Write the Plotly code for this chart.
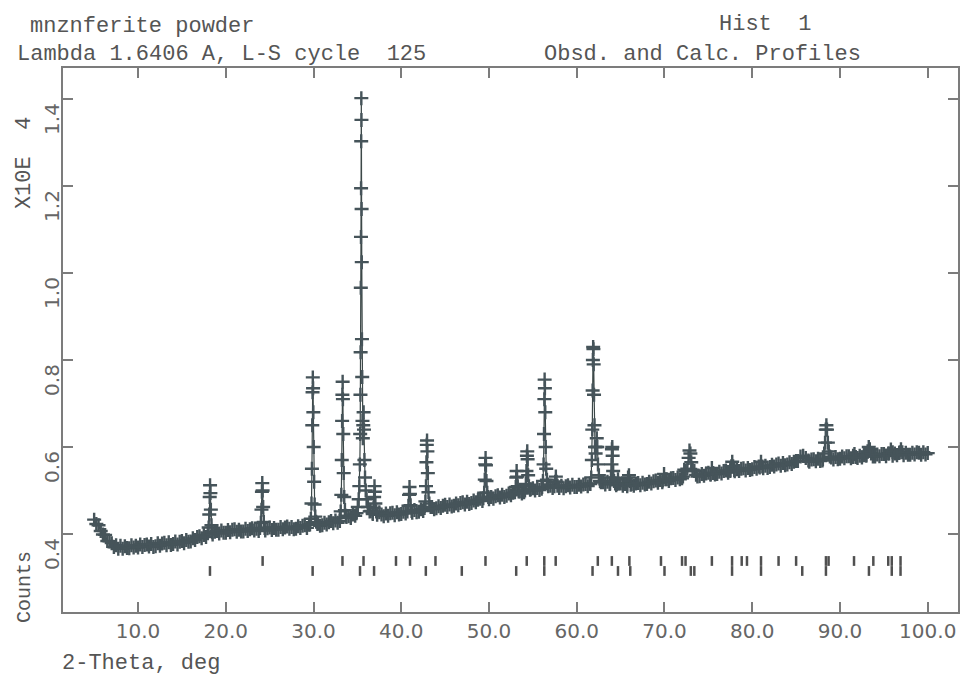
import plotly.graph_objects as go

# ---------------------------------------------------------------
# Observed powder scan, counts in units of 10^4.
# Coarse grid from 5.0 deg in 0.25 deg steps (one row per degree).
# ---------------------------------------------------------------
scan_start = 5.0
scan_step = 0.25
scan_counts = [
    0.433, 0.423, 0.420, 0.407,  # 5
    0.399, 0.398, 0.384, 0.383,  # 6
    0.379, 0.370, 0.374, 0.366,  # 7
    0.373, 0.366, 0.372, 0.368,  # 8
    0.367, 0.374, 0.369, 0.373,  # 9
    0.369, 0.376, 0.370, 0.375,  # 10
    0.376, 0.371, 0.377, 0.370,  # 11
    0.372, 0.379, 0.373, 0.378,  # 12
    0.380, 0.374, 0.381, 0.375,  # 13
    0.377, 0.383, 0.376, 0.382,  # 14
    0.384, 0.379, 0.386, 0.382,  # 15
    0.383, 0.390, 0.386, 0.393,  # 16
    0.395, 0.390, 0.398, 0.393,  # 17
    0.396, 0.402, 0.399, 0.405,  # 18
    0.407, 0.401, 0.408, 0.403,  # 19
    0.403, 0.409, 0.404, 0.410,  # 20
    0.411, 0.405, 0.410, 0.406,  # 21
    0.406, 0.412, 0.407, 0.411,  # 22
    0.413, 0.408, 0.412, 0.407,  # 23
    0.409, 0.414, 0.408, 0.413,  # 24
    0.415, 0.409, 0.414, 0.410,  # 25
    0.410, 0.416, 0.411, 0.415,  # 26
    0.417, 0.412, 0.416, 0.411,  # 27
    0.412, 0.418, 0.414, 0.419,  # 28
    0.420, 0.414, 0.421, 0.416,  # 29
    0.423, 0.418, 0.424, 0.419,  # 30
    0.420, 0.426, 0.422, 0.427,  # 31
    0.430, 0.425, 0.431, 0.426,  # 32
    0.430, 0.436, 0.433, 0.439,  # 33
    0.441, 0.437, 0.445, 0.442,  # 34
    0.447, 0.453, 0.455, 0.458,  # 35
    0.458, 0.452, 0.453, 0.446,  # 36
    0.449, 0.444, 0.450, 0.445,  # 37
    0.441, 0.447, 0.442, 0.448,  # 38
    0.449, 0.443, 0.450, 0.445,  # 39
    0.446, 0.451, 0.447, 0.452,  # 40
    0.454, 0.449, 0.455, 0.450,  # 41
    0.451, 0.457, 0.453, 0.458,  # 42
    0.461, 0.456, 0.462, 0.457,  # 43
    0.459, 0.464, 0.460, 0.465,  # 44
    0.467, 0.462, 0.468, 0.463,  # 45
    0.465, 0.470, 0.466, 0.471,  # 46
    0.473, 0.468, 0.474, 0.469,  # 47
    0.471, 0.477, 0.473, 0.479,  # 48
    0.481, 0.476, 0.482, 0.477,  # 49
    0.480, 0.485, 0.481, 0.487,  # 50
    0.489, 0.484, 0.490, 0.485,  # 51
    0.488, 0.493, 0.489, 0.495,  # 52
    0.497, 0.492, 0.498, 0.493,  # 53
    0.496, 0.501, 0.497, 0.503,  # 54
    0.505, 0.500, 0.506, 0.501,  # 55
    0.504, 0.509, 0.505, 0.510,  # 56
    0.511, 0.506, 0.512, 0.507,  # 57
    0.506, 0.511, 0.505, 0.510,  # 58
    0.512, 0.507, 0.513, 0.508,  # 59
    0.508, 0.513, 0.509, 0.514,  # 60
    0.515, 0.510, 0.516, 0.511,  # 61
    0.513, 0.518, 0.514, 0.519,  # 62
    0.519, 0.514, 0.520, 0.515,  # 63
    0.513, 0.518, 0.512, 0.517,  # 64
    0.516, 0.511, 0.515, 0.510,  # 65
    0.510, 0.515, 0.511, 0.516,  # 66
    0.517, 0.512, 0.518, 0.514,  # 67
    0.515, 0.520, 0.516, 0.521,  # 68
    0.523, 0.518, 0.524, 0.519,  # 69
    0.521, 0.526, 0.522, 0.528,  # 70
    0.529, 0.524, 0.530, 0.526,  # 71
    0.528, 0.533, 0.529, 0.534,  # 72
    0.536, 0.531, 0.537, 0.532,  # 73
    0.533, 0.538, 0.534, 0.539,  # 74
    0.541, 0.536, 0.542, 0.537,  # 75
    0.538, 0.543, 0.539, 0.545,  # 76
    0.546, 0.541, 0.547, 0.542,  # 77
    0.544, 0.549, 0.545, 0.550,  # 78
    0.551, 0.546, 0.552, 0.547,  # 79
    0.549, 0.554, 0.550, 0.555,  # 80
    0.556, 0.551, 0.557, 0.552,  # 81
    0.554, 0.559, 0.555, 0.560,  # 82
    0.562, 0.557, 0.563, 0.558,  # 83
    0.560, 0.565, 0.561, 0.566,  # 84
    0.568, 0.563, 0.569, 0.564,  # 85
    0.565, 0.570, 0.566, 0.571,  # 86
    0.572, 0.567, 0.573, 0.568,  # 87
    0.569, 0.574, 0.570, 0.575,  # 88
    0.576, 0.571, 0.577, 0.572,  # 89
    0.573, 0.578, 0.574, 0.579,  # 90
    0.579, 0.574, 0.580, 0.575,  # 91
    0.575, 0.580, 0.576, 0.581,  # 92
    0.582, 0.577, 0.583, 0.578,  # 93
    0.578, 0.583, 0.579, 0.584,  # 94
    0.584, 0.579, 0.585, 0.580,  # 95
    0.580, 0.585, 0.581, 0.586,  # 96
    0.586, 0.581, 0.587, 0.582,  # 97
    0.582, 0.587, 0.583, 0.588,  # 98
    0.587, 0.582, 0.588, 0.583,  # 99
    0.586,                       # 100
]

# ---------------------------------------------------------------
# Finer sampling across the Bragg peaks: (2-theta, counts) pairs.
# ---------------------------------------------------------------
pk_18 = [(17.95, 0.402), (18.05, 0.415), (18.12, 0.445), (18.17, 0.485), (18.21, 0.512),
         (18.25, 0.494), (18.30, 0.456), (18.37, 0.420), (18.47, 0.404)]
pk_24 = [(23.90, 0.414), (24.00, 0.426), (24.07, 0.456), (24.12, 0.497), (24.16, 0.517),
         (24.20, 0.500), (24.26, 0.462), (24.33, 0.428), (24.43, 0.414)]
pk_30 = [(29.60, 0.422), (29.70, 0.435), (29.77, 0.470), (29.82, 0.550), (29.86, 0.650),
         (29.89, 0.726), (29.92, 0.760), (29.95, 0.735), (29.98, 0.680), (30.02, 0.600),
         (30.07, 0.520), (30.13, 0.468), (30.20, 0.440), (30.30, 0.428), (30.45, 0.423)]
pk_33 = [(33.00, 0.437), (33.10, 0.452), (33.17, 0.490), (33.22, 0.570), (33.26, 0.660),
         (33.29, 0.720), (33.32, 0.750), (33.35, 0.710), (33.39, 0.630), (33.44, 0.540),
         (33.50, 0.485), (33.58, 0.455), (33.70, 0.442)]
pk_35 = [(34.90, 0.448), (35.05, 0.462), (35.15, 0.480), (35.22, 0.510), (35.28, 0.560),
         (35.32, 0.630), (35.35, 0.720), (35.37, 0.818), (35.39, 0.966), (35.41, 1.083),
         (35.42, 1.195), (35.435, 1.303), (35.45, 1.402), (35.465, 1.352), (35.48, 1.147),
         (35.50, 1.025), (35.52, 0.848), (35.55, 0.761), (35.58, 0.660), (35.62, 0.620),
         (35.67, 0.650), (35.71, 0.680), (35.75, 0.640), (35.80, 0.570), (35.87, 0.530),
         (35.95, 0.500), (36.05, 0.480), (36.20, 0.462), (36.40, 0.452)]
pk_37 = [(36.75, 0.449), (36.85, 0.460), (36.91, 0.485), (36.95, 0.510), (36.99, 0.497),
         (37.05, 0.470), (37.15, 0.452)]
pk_41 = [(40.70, 0.452), (40.82, 0.465), (40.89, 0.490), (40.94, 0.508), (40.99, 0.492),
         (41.06, 0.466), (41.18, 0.453)]
pk_43 = [(42.65, 0.460), (42.75, 0.475), (42.82, 0.510), (42.87, 0.565), (42.91, 0.605),
         (42.94, 0.615), (42.98, 0.590), (43.03, 0.540), (43.10, 0.496), (43.20, 0.470),
         (43.35, 0.462)]
pk_49 = [(49.35, 0.482), (49.45, 0.495), (49.52, 0.525), (49.57, 0.560), (49.61, 0.575),
         (49.65, 0.558), (49.71, 0.522), (49.80, 0.495), (49.92, 0.485)]
pk_53 = [(52.95, 0.496), (53.05, 0.508), (53.11, 0.530), (53.15, 0.545), (53.20, 0.532),
         (53.27, 0.510), (53.38, 0.498)]
pk_54 = [(54.10, 0.500), (54.20, 0.515), (54.27, 0.545), (54.32, 0.580), (54.36, 0.590),
         (54.40, 0.572), (54.46, 0.535), (54.55, 0.510), (54.68, 0.502)]
pk_56 = [(56.05, 0.508), (56.15, 0.522), (56.22, 0.560), (56.27, 0.630), (56.31, 0.710),
         (56.34, 0.755), (56.37, 0.735), (56.41, 0.680), (56.46, 0.600), (56.52, 0.550),
         (56.60, 0.525), (56.72, 0.514)]
pk_57 = [(57.45, 0.510), (57.55, 0.520), (57.62, 0.532), (57.70, 0.520), (57.80, 0.511)]
pk_62 = [(61.55, 0.515), (61.65, 0.530), (61.72, 0.570), (61.77, 0.640), (61.81, 0.730),
         (61.84, 0.800), (61.87, 0.830), (61.90, 0.825), (61.93, 0.790), (61.97, 0.720),
         (62.02, 0.650), (62.08, 0.600), (62.15, 0.585), (62.22, 0.600), (62.28, 0.620),
         (62.34, 0.600), (62.42, 0.560), (62.52, 0.535), (62.65, 0.522)]
pk_64 = [(63.80, 0.516), (63.90, 0.530), (63.96, 0.560), (64.01, 0.595), (64.05, 0.600),
         (64.09, 0.580), (64.15, 0.545), (64.25, 0.522), (64.38, 0.516)]
pk_65 = [(64.60, 0.515), (64.70, 0.526), (64.80, 0.516)]
pk_66 = [(65.75, 0.514), (65.85, 0.530), (65.95, 0.535), (66.05, 0.522), (66.15, 0.513)]
pk_70 = [(69.80, 0.523), (69.95, 0.538), (70.10, 0.526)]
pk_73 = [(72.10, 0.532), (72.25, 0.548), (72.40, 0.545), (72.60, 0.550), (72.75, 0.575),
         (72.85, 0.592), (72.95, 0.585), (73.05, 0.565), (73.20, 0.548), (73.40, 0.545),
         (73.60, 0.536)]
pk_75 = [(75.25, 0.538), (75.40, 0.552), (75.55, 0.540)]
pk_78 = [(77.50, 0.545), (77.62, 0.556), (77.72, 0.566), (77.82, 0.556), (77.95, 0.547)]
pk_81 = [(80.85, 0.553), (81.00, 0.566), (81.15, 0.555)]
pk_86 = [(85.20, 0.568), (85.50, 0.578), (85.80, 0.580), (86.10, 0.575), (86.40, 0.569)]
pk_88 = [(88.05, 0.572), (88.20, 0.585), (88.30, 0.610), (88.38, 0.640), (88.45, 0.650),
         (88.52, 0.640), (88.62, 0.610), (88.72, 0.590), (88.85, 0.578)]
pk_92 = [(91.50, 0.577), (91.65, 0.584), (91.80, 0.577)]
pk_93 = [(93.00, 0.580), (93.15, 0.590), (93.28, 0.600), (93.40, 0.595), (93.55, 0.585)]
pk_96 = [(95.60, 0.585), (95.80, 0.594), (96.00, 0.588)]
pk_97 = [(96.80, 0.588), (96.95, 0.595), (97.10, 0.588)]

peak_sets = [pk_18, pk_24, pk_30, pk_33, pk_35, pk_37, pk_41, pk_43, pk_49, pk_53,
             pk_54, pk_56, pk_57, pk_62, pk_64, pk_65, pk_66, pk_70, pk_73, pk_75,
             pk_78, pk_81, pk_86, pk_88, pk_92, pk_93, pk_96, pk_97]

# Reflection positions (2-theta) for the two phases
refl_phase_upper = [24.2, 33.3, 35.7, 39.4, 41.0, 43.9, 49.6, 54.3, 56.3, 57.6,
                    62.4, 64.0, 66.0, 69.6, 72.0, 72.4, 75.4, 77.7, 78.8, 79.4,
                    81.0, 83.0, 85.0, 88.4, 88.7, 91.6, 93.8, 95.5, 95.9, 96.9]
refl_phase_lower = [18.2, 29.9, 35.3, 36.9, 42.8, 46.9, 53.1, 56.3, 61.8, 64.7,
                    66.1, 70.0, 73.0, 73.4, 77.7, 81.0, 85.7, 88.4, 93.3, 95.9, 96.9]

x_ticks = [10, 20, 30, 40, 50, 60, 70, 80, 90, 100]
y_ticks = [0.4, 0.6, 0.8, 1.0, 1.2, 1.4]

# ---------------------------------------------------------------
# Merge the coarse grid with the fine peak samples
# ---------------------------------------------------------------
grid_tth = [scan_start + i * scan_step for i in range(len(scan_counts))]
points = []
for t, c in zip(grid_tth, scan_counts):
    if any(s[0][0] < t < s[-1][0] for s in peak_sets):
        continue
    points.append((t, c))
for s in peak_sets:
    points.extend(s)
points.sort()
obs_tth = [p[0] for p in points]
obs_cts = [p[1] for p in points]

INK = "#46545a"
FRAME = "#7c7c7c"
TEXT = "#555555"

fig = go.Figure()

fig.add_trace(go.Scatter(
    x=obs_tth, y=obs_cts, mode="lines+markers",
    line=dict(color="#3c4848", width=1.2),
    marker=dict(symbol="cross-thin", size=10,
                line=dict(color=INK, width=2.4)),
    hoverinfo="skip",
))

# reflection markers in two rows under the pattern
fig.add_trace(go.Scatter(
    x=refl_phase_upper, y=[0.338] * len(refl_phase_upper), mode="markers",
    marker=dict(symbol="line-ns", size=7, line=dict(color="#505050", width=2.5)),
    hoverinfo="skip",
))
fig.add_trace(go.Scatter(
    x=refl_phase_lower, y=[0.315] * len(refl_phase_lower), mode="markers",
    marker=dict(symbol="line-ns", size=7, line=dict(color="#505050", width=2.5)),
    hoverinfo="skip",
))

# plot area in pixels: x 63..960, y 68..612
PX_L, PX_R, PX_T, PX_B = 63, 960, 68, 612


def px(xp):
    return (xp - PX_L) / (PX_R - PX_L)


def py(yp):
    return (PX_B - yp) / (PX_B - PX_T)


title_font = dict(family="Liberation Mono", size=22, color=TEXT)
labels = [
    ("mnznferite powder", 28, 27),
    ("Lambda 1.6406 A, L-S cycle  125", 15, 55),
    ("Hist  1", 718, 25),
    ("Obsd. and Calc. Profiles", 543, 54),
    ("2-Theta, deg", 60, 663),
]
annotations = []
for text, xp, yp in labels:
    annotations.append(dict(
        text=text, xref="paper", yref="paper", x=px(xp), y=py(yp),
        xanchor="left", yanchor="middle", showarrow=False, font=title_font))
for text, yp, size in [("X10E  4", 163, 22), ("Counts", 587, 20)]:
    annotations.append(dict(
        text=text, xref="paper", yref="paper", x=px(24), y=py(yp),
        xanchor="center", yanchor="middle", showarrow=False, textangle=-90,
        font=dict(family="Liberation Mono", size=size, color=TEXT)))

axis_common = dict(
    showgrid=False, zeroline=False, showline=True, linecolor=FRAME, linewidth=2,
    mirror="ticks", ticks="inside", ticklen=10, tickwidth=2, tickcolor=FRAME,
    tickfont=dict(family="DejaVu Sans", size=20, color="#666666"),
)

fig.update_layout(
    width=968, height=675, autosize=False,
    margin=dict(l=PX_L, r=968 - PX_R, t=PX_T, b=675 - PX_B),
    paper_bgcolor="white", plot_bgcolor="white",
    showlegend=False,
    annotations=annotations,
    xaxis=dict(range=[1.45, 103.45], tickvals=x_ticks, tickformat=".1f", **axis_common),
    yaxis=dict(range=[0.2207, 1.4713], tickvals=y_ticks, tickformat=".1f",
               tickangle=-90, ticklabelshift=23, ticklabelstandoff=-6, **axis_common),
)

fig.write_html("out.html")
